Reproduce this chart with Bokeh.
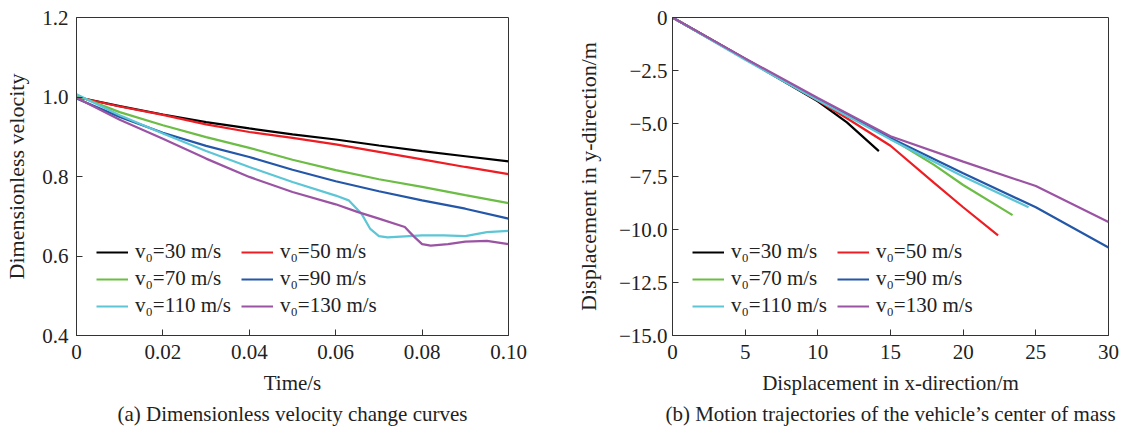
from bokeh.plotting import figure
from bokeh.layouts import row
from bokeh.models import FixedTicker, Legend, LegendItem, Title
from bokeh.embed import file_html
from bokeh.resources import INLINE

# ---------------- data ----------------
series_labels = ["v₀=30 m/s", "v₀=50 m/s", "v₀=70 m/s", "v₀=90 m/s", "v₀=110 m/s", "v₀=130 m/s"]
colors = ["#000000", "#ee1d23", "#6cbd45", "#2457a8", "#5cc6d6", "#9b54a4"]

# (a) dimensionless velocity vs time
t_std = [0, 0.01, 0.02, 0.03, 0.04, 0.05, 0.06, 0.07, 0.08, 0.09, 0.10]
vel_30 = [1.000, 0.977, 0.956, 0.937, 0.921, 0.906, 0.893, 0.878, 0.864, 0.851, 0.838]
vel_50 = [1.000, 0.976, 0.955, 0.931, 0.912, 0.897, 0.881, 0.862, 0.843, 0.824, 0.806]
vel_70 = [1.004, 0.962, 0.929, 0.899, 0.872, 0.842, 0.816, 0.793, 0.774, 0.753, 0.733]
vel_90 = [0.996, 0.950, 0.910, 0.877, 0.849, 0.817, 0.788, 0.763, 0.740, 0.719, 0.694]
t_110 = [0, 0.01, 0.02, 0.03, 0.04, 0.05, 0.06, 0.063, 0.066, 0.068, 0.070, 0.072, 0.080, 0.085, 0.090, 0.095, 0.10]
vel_110 = [1.007, 0.954, 0.908, 0.864, 0.824, 0.786, 0.752, 0.740, 0.706, 0.668, 0.650, 0.647, 0.652, 0.652, 0.650, 0.660, 0.663]
t_130 = [0, 0.01, 0.02, 0.03, 0.04, 0.05, 0.06, 0.065, 0.070, 0.076, 0.078, 0.080, 0.082, 0.086, 0.090, 0.095, 0.10]
vel_130 = [0.998, 0.943, 0.895, 0.845, 0.799, 0.761, 0.730, 0.711, 0.694, 0.673, 0.650, 0.630, 0.626, 0.630, 0.636, 0.638, 0.630]

# (b) trajectories of centre of mass
dx_30 = [0, 5, 10, 12, 14.2]
dy_30 = [0, -1.95, -3.95, -4.95, -6.30]
dx_50 = [0, 5, 10, 12, 15, 18, 20, 22.4]
dy_50 = [0, -1.95, -3.92, -4.75, -6.05, -7.80, -8.95, -10.28]
dx_70 = [0, 5, 10, 15, 18, 20, 23.4]
dy_70 = [0, -1.95, -3.85, -5.70, -6.95, -7.90, -9.32]
dx_90 = [0, 5, 10, 15, 20, 25, 30]
dy_90 = [0, -1.95, -3.85, -5.68, -7.35, -8.95, -10.85]
dx_110 = [0, 5, 10, 15, 20, 24.5]
dy_110 = [0, -2.00, -3.90, -5.75, -7.50, -8.95]
dx_130 = [0, 5, 10, 15, 20, 25, 30]
dy_130 = [0, -1.93, -3.80, -5.60, -6.80, -7.95, -9.65]

# ticks
a_xticks = [0, 0.02, 0.04, 0.06, 0.08, 0.10]
a_xlabels = ["0", "0.02", "0.04", "0.06", "0.08", "0.10"]
a_yticks = [0.4, 0.6, 0.8, 1.0, 1.2]
a_ylabels = ["0.4", "0.6", "0.8", "1.0", "1.2"]
b_xticks = [0, 5, 10, 15, 20, 25, 30]
b_xlabels = ["0", "5", "10", "15", "20", "25", "30"]
b_yticks = [0, -2.5, -5.0, -7.5, -10.0, -12.5, -15.0]
b_ylabels = ["0", "−2.5", "−5.0", "−7.5", "−10.0", "−12.5", "−15.0"]

caption_a = "(a) Dimensionless velocity change curves"
caption_b = "(b) Motion trajectories of the vehicle’s center of mass"

FONT = "Liberation Serif"
FS = "21px"
H = 428
TOP = 17
FRAME_H = 318


def style(p, xt, xl, yt, yl, ystandoff, ylabstandoff):
    p.outline_line_color = "#333333"
    p.outline_line_width = 1
    p.grid.visible = False
    p.xaxis.ticker = FixedTicker(ticks=xt)
    p.yaxis.ticker = FixedTicker(ticks=yt)
    p.xaxis.major_label_overrides = {k: v for k, v in zip(xt, xl)}
    p.yaxis.major_label_overrides = {k: v for k, v in zip(yt, yl)}
    for ax in (p.xaxis[0], p.yaxis[0]):
        ax.axis_line_color = "#333333"
        ax.major_tick_line_color = "#333333"
        ax.major_tick_in = 6
        ax.major_tick_out = 0
        ax.minor_tick_line_color = None
        ax.major_label_text_font = FONT
        ax.major_label_text_font_size = FS
        ax.major_label_text_color = "#222222"
        ax.axis_label_text_font = FONT
        ax.axis_label_text_font_size = FS
        ax.axis_label_text_font_style = "normal"
        ax.axis_label_text_color = "#222222"
    p.yaxis.axis_label_text_font_size = "22px"
    p.xaxis.major_label_standoff = 9
    p.xaxis.axis_label_standoff = 9
    p.yaxis.major_label_standoff = ystandoff
    p.yaxis.axis_label_standoff = ylabstandoff


def add_legend(p, renderers):
    items = [LegendItem(label=lab, renderers=[r]) for lab, r in zip(series_labels, renderers)]
    leg = Legend(items=items, location=(20, 17), orientation="horizontal", ncols=2)
    leg.border_line_color = None
    leg.background_fill_alpha = 0
    leg.margin = 0
    leg.padding = 0
    leg.spacing = 2
    leg.glyph_width = 32
    leg.glyph_height = 20
    leg.label_height = 20
    leg.label_width = 104
    leg.label_standoff = 7
    leg.label_text_font = FONT
    leg.label_text_font_size = FS
    leg.label_text_color = "#222222"
    leg.label_text_baseline = "middle"
    p.add_layout(leg)


def add_caption(p, text):
    t = Title(text=text, align="center", text_font=FONT, text_font_size=FS,
              text_font_style="normal", text_color="#222222", standoff=5, offset=0)
    p.add_layout(t, "below")


# ---------------- panel (a) ----------------
pa = figure(width=556, height=H, x_range=(0, 0.10), y_range=(0.4, 1.2),
            output_backend="svg", toolbar_location=None,
            min_border_left=76, min_border_right=48, min_border_top=TOP,
            min_border_bottom=H - TOP - FRAME_H,
            x_axis_label="Time/s", y_axis_label="Dimensionless velocity")
style(pa, a_xticks, a_xlabels, a_yticks, a_ylabels, 8, 10)
ra = []
for tx, vy, c in zip([t_std, t_std, t_std, t_std, t_110, t_130],
                     [vel_30, vel_50, vel_70, vel_90, vel_110, vel_130], colors):
    ra.append(pa.line(tx, vy, line_color=c, line_width=2.2))
add_legend(pa, ra)
add_caption(pa, caption_a)

# ---------------- panel (b) ----------------
pb = figure(width=564, height=H, x_range=(0, 30), y_range=(-15, 0),
            output_backend="svg", toolbar_location=None,
            min_border_left=116, min_border_right=12, min_border_top=TOP,
            min_border_bottom=H - TOP - FRAME_H,
            x_axis_label="Displacement in x-direction/m",
            y_axis_label="Displacement in y-direction/m")
style(pb, b_xticks, b_xlabels, b_yticks, b_ylabels, 5, 15)
rb = []
for xs, ys, c in zip([dx_30, dx_50, dx_70, dx_90, dx_110, dx_130],
                     [dy_30, dy_50, dy_70, dy_90, dy_110, dy_130], colors):
    rb.append(pb.line(xs, ys, line_color=c, line_width=2.2))
add_legend(pb, rb)
add_caption(pb, caption_b)

layout = row(pa, pb)
open("out.html", "w").write(file_html(layout, INLINE))
